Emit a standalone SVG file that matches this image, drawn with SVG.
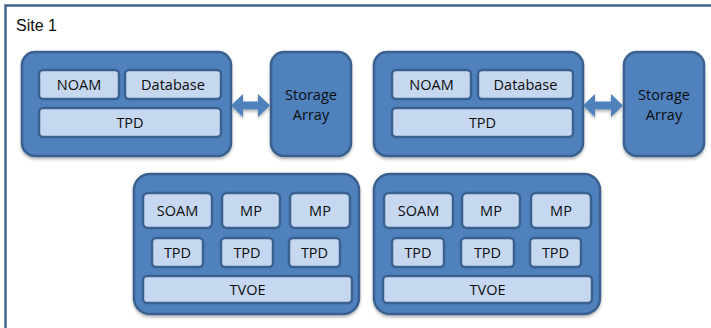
<svg xmlns="http://www.w3.org/2000/svg" width="711" height="328" viewBox="0 0 711 328">
<defs>
<style>
.frame{fill:none;stroke:#41648f;stroke-width:2.5}
.node{fill:#4f81bd;stroke:#3a6190;stroke-width:2.5;filter:url(#sh)}
.box{fill:#c6d8ef;stroke:#3a6190;stroke-width:2.5}
.t{font-family:"Open Sans","Liberation Sans",sans-serif;font-size:14.5px;fill:#0d0d0d;text-anchor:middle}
.site{font-family:"Liberation Sans",Arial,sans-serif;font-size:16px;fill:#0d0d0d}
.arr{fill:#4f81bd;filter:url(#sh)}
</style>
<filter id="sh" x="-10%" y="-10%" width="120%" height="125%">
<feDropShadow dx="0" dy="2" stdDeviation="1.5" flood-color="#000" flood-opacity="0.3"/>
</filter>
</defs>
<rect width="711" height="328" fill="#fff"/>
<g id="site1">
<path class="frame" d="M5.5,340 V5.5 H720"/>
<text class="site" x="16" y="30.5">Site 1</text>
</g>
<g id="noam1">
<rect class="node" x="22" y="52" width="209" height="104" rx="13"/>
<rect class="box" x="39" y="70" width="80" height="29" rx="4"/>
<text class="t" x="79" y="90">NOAM</text>
<rect class="box" x="125" y="70" width="96" height="29" rx="4"/>
<text class="t" x="173" y="90">Database</text>
<rect class="box" x="39" y="108" width="182" height="29" rx="4"/>
<text class="t" x="130" y="127.5">TPD</text>
</g>
<g id="storage1">
<rect class="node" x="271" y="52" width="80" height="104" rx="13"/>
<text class="t" x="311" y="100">Storage</text>
<text class="t" x="311" y="120">Array</text>
</g>
<g id="noam2">
<rect class="node" x="374" y="52" width="209" height="104" rx="13"/>
<rect class="box" x="392" y="70" width="79" height="29" rx="4"/>
<text class="t" x="431.5" y="90">NOAM</text>
<rect class="box" x="478" y="70" width="95" height="29" rx="4"/>
<text class="t" x="525.5" y="90">Database</text>
<rect class="box" x="392" y="108" width="181" height="29" rx="4"/>
<text class="t" x="482.5" y="127.5">TPD</text>
</g>
<g id="storage2">
<rect class="node" x="624" y="52" width="80" height="104" rx="13"/>
<text class="t" x="664" y="100">Storage</text>
<text class="t" x="664" y="120">Array</text>
</g>
<g id="soam1">
<rect class="node" x="134" y="174" width="225" height="140" rx="16"/>
<rect class="box" x="143" y="193" width="69" height="35" rx="5"/>
<text class="t" x="177.5" y="216">SOAM</text>
<rect class="box" x="222" y="193" width="58" height="35" rx="5"/>
<text class="t" x="251" y="216">MP</text>
<rect class="box" x="290" y="193" width="60" height="35" rx="5"/>
<text class="t" x="320" y="216">MP</text>
<rect class="box" x="152" y="238" width="51" height="29" rx="4"/>
<text class="t" x="177.5" y="257.5">TPD</text>
<rect class="box" x="221" y="238" width="52" height="29" rx="4"/>
<text class="t" x="247" y="257.5">TPD</text>
<rect class="box" x="289" y="238" width="51" height="29" rx="4"/>
<text class="t" x="314.5" y="257.5">TPD</text>
<rect class="box" x="143" y="276" width="209" height="27" rx="4"/>
<text class="t" x="247.5" y="294.5">TVOE</text>
</g>
<g id="soam2">
<rect class="node" x="374" y="174" width="226" height="140" rx="16"/>
<rect class="box" x="384" y="193" width="69" height="35" rx="5"/>
<text class="t" x="418.5" y="216">SOAM</text>
<rect class="box" x="462" y="193" width="58" height="35" rx="5"/>
<text class="t" x="491" y="216">MP</text>
<rect class="box" x="531" y="193" width="60" height="35" rx="5"/>
<text class="t" x="561" y="216">MP</text>
<rect class="box" x="392" y="238" width="52" height="29" rx="4"/>
<text class="t" x="418" y="257.5">TPD</text>
<rect class="box" x="461" y="238" width="53" height="29" rx="4"/>
<text class="t" x="487.5" y="257.5">TPD</text>
<rect class="box" x="530" y="238" width="51" height="29" rx="4"/>
<text class="t" x="555.5" y="257.5">TPD</text>
<rect class="box" x="383" y="276" width="209" height="27" rx="4"/>
<text class="t" x="487.5" y="294.5">TVOE</text>
</g>
<g id="connectors">
<path class="arr" d="M231,105.5 L243,94 L243,101.5 L258,101.5 L258,94 L270,105.5 L258,117 L258,109.5 L243,109.5 L243,117 Z"/>
<path class="arr" d="M583,105.5 L595,94 L595,101.5 L611,101.5 L611,94 L623,105.5 L611,117 L611,109.5 L595,109.5 L595,117 Z"/>
</g>
</svg>
